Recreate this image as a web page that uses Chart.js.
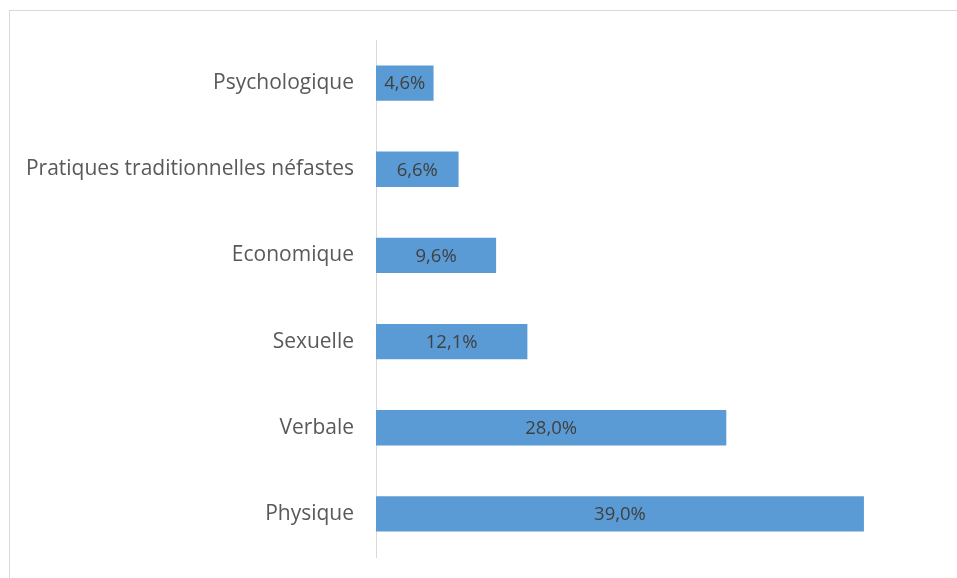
<!DOCTYPE html>
<html>
<head>
<meta charset="utf-8">
<script src="https://cdn.jsdelivr.net/npm/chart.js@4/dist/chart.umd.min.js"></script>
<style>
  body { margin: 0; background: #fff; }
  #frame { position: absolute; left: 9px; top: 10px; width: 1000px; height: 1000px; border: 1px solid #d9d9d9; }
  #wrap { position: absolute; left: 0; top: 0; width: 957px; height: 578px; }
</style>
</head>
<body>
<div id="frame"></div>
<div id="wrap"><canvas id="chart"></canvas></div>
<script>
// categories top to bottom
const categories = ['Psychologique', 'Pratiques traditionnelles néfastes', 'Economique', 'Sexuelle', 'Verbale', 'Physique'];
const percentages = [4.6, 6.6, 9.6, 12.1, 28.0, 39.0];
const axisMax = 45;

const fmt = v => v.toFixed(1).replace('.', ',') + '%';

// labels in the middle of each bar
const barLabels = {
  id: 'barLabels',
  afterDatasetsDraw(chart) {
    const ctx = chart.ctx;
    const meta = chart.getDatasetMeta(0);
    ctx.save();
    ctx.font = '18.5px "Open Sans"';
    ctx.fillStyle = '#404040';
    ctx.textAlign = 'center';
    ctx.textBaseline = 'middle';
    meta.data.forEach((bar, i) => {
      ctx.fillText(fmt(percentages[i]), (bar.x + bar.base) / 2, bar.y + 1);
    });
    ctx.restore();
  }
};

new Chart(document.getElementById('chart'), {
  type: 'bar',
  data: {
    labels: categories,
    datasets: [{
      data: percentages,
      backgroundColor: '#5b9bd5',
      barPercentage: 0.41,
      categoryPercentage: 1
    }]
  },
  options: {
    indexAxis: 'y',
    responsive: true,
    maintainAspectRatio: false,
    animation: false,
    layout: { padding: { left: 10, right: 18, top: 40, bottom: 21 } },
    plugins: { legend: { display: false }, tooltip: { enabled: false } },
    scales: {
      x: { display: false, min: 0, max: axisMax },
      y: {
        grid: { display: false, drawTicks: false },
        border: { display: true, color: '#d9d9d9', width: 1 },
        ticks: { color: '#595959', font: { family: 'Open Sans', size: 21 }, padding: 22 },
        afterFit(scale) {
          scale.width = 366;
          scale.paddingTop = 0;
          scale.paddingBottom = 0;
        }
      }
    }
  },
  plugins: [barLabels]
});
</script>
</body>
</html>
